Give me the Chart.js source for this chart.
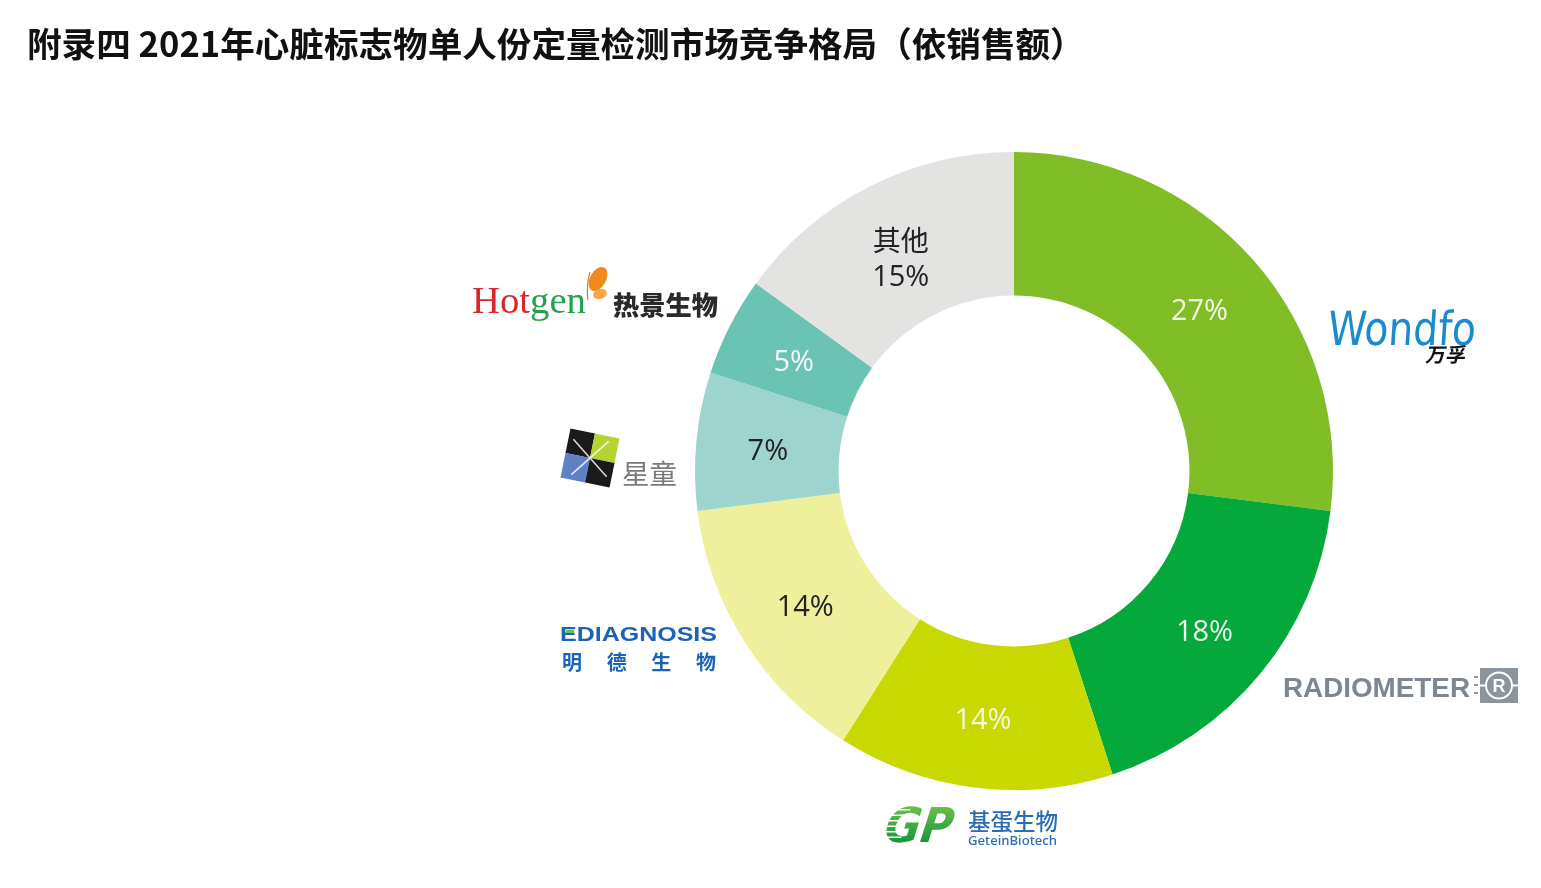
<!DOCTYPE html>
<html>
<head>
<meta charset="utf-8">
<script src="https://cdn.jsdelivr.net/npm/chart.js@4/dist/chart.umd.min.js"></script>
<style>
html,body{margin:0;padding:0;background:#fff;}
#wrap{position:absolute;left:0;top:0;width:1541px;height:888px;}
canvas{display:block;}
</style>
</head>
<body>
<div id="wrap"><canvas id="c" width="1541" height="888"></canvas></div>
<script>
const titleText = '附录四 2021年心脏标志物单人份定量检测市场竞争格局（依销售额）';
const companies = ['万孚', 'Radiometer', '基蛋生物', '明德生物', '星童', '热景生物', '其他'];
const shares = [27, 18, 14, 14, 7, 5, 15];
const sliceColors = ['#80bd27', '#05a83b', '#c8d901', '#eef09c', '#9dd4cd', '#6bc3b4', '#e3e3e1'];
const labelColors = ['#f4fbe8', '#eaf7ee', '#f6f9e0', '#222222', '#222222', '#f2fbf8', '#222222'];

function fitFont(ctx, text, weight, family, width) {
  ctx.font = weight + ' 100px ' + family;
  const w = ctx.measureText(text).width;
  return 100 * width / w;
}
function fitText(ctx, text, x, y, width, weight, family, color, align) {
  const size = fitFont(ctx, text, weight, family, width);
  ctx.font = weight + ' ' + size.toFixed(2) + 'px ' + family;
  ctx.fillStyle = color;
  ctx.textAlign = align || 'left';
  ctx.fillText(text, x, y);
  return size;
}
function spaced(ctx, chars, x0, x1, y, font, color) {
  ctx.font = font; ctx.fillStyle = color; ctx.textAlign = 'center';
  const n = chars.length;
  const w0 = ctx.measureText(chars[0]).width;
  const step = (x1 - x0 - w0) / (n - 1);
  for (let i = 0; i < n; i++) ctx.fillText(chars[i], x0 + w0 / 2 + i * step, y);
}

const overlay = {
  id: 'overlay',
  afterDraw(chart) {
    const ctx = chart.ctx;
    ctx.save();
    ctx.textBaseline = 'alphabetic';
    // title
    fitText(ctx, titleText, 27, 57, 1058, 'bold', '"Noto Sans CJK SC"', '#111111');

    // slice labels
    const meta = chart.getDatasetMeta(0);
    ctx.textBaseline = 'middle';
    ctx.textAlign = 'center';
    meta.data.forEach((arc, i) => {
      const p = arc.tooltipPosition();
      ctx.fillStyle = labelColors[i];
      const pct = shares[i] + '%';
      if (companies[i] === '其他') {
        ctx.font = '28px "Noto Sans CJK SC"';
        ctx.fillText(companies[i], p.x - 1, p.y - 10);
        ctx.font = '29px "Open Sans"';
        ctx.fillText(pct, p.x - 1, p.y + 27);
      } else {
        ctx.font = '29px "Open Sans"';
        ctx.fillText(pct, p.x, p.y + 4);
      }
    });

    ctx.textBaseline = 'alphabetic';
    // Wondfo
    ctx.save();
    ctx.translate(1327, 345);
    ctx.scale(1, 1.2);
    ctx.transform(1, 0, -0.08, 1, 0, 0);
    fitText(ctx, 'Wondfo', 0, 0, 148, '400', '"DejaVu Sans"', '#1b8bd0');
    ctx.restore();
    ctx.save();
    ctx.translate(1425, 362);
    ctx.transform(1, 0, -0.2, 1, 0, 0);
    fitText(ctx, '万孚', 0, 0, 40, 'bold', '"Noto Sans CJK SC"', '#111111');
    ctx.restore();

    // RADIOMETER
    fitText(ctx, 'RADIOMETER', 1283, 697, 187, 'bold', '"Liberation Sans"', '#7d8792');
    ctx.fillStyle = '#8c959e';
    ctx.fillRect(1480, 668, 38, 35);
    ctx.fillRect(1474, 676, 4, 2); ctx.fillRect(1474, 684, 4, 2); ctx.fillRect(1474, 692, 4, 2);
    ctx.strokeStyle = '#ffffff'; ctx.lineWidth = 2;
    ctx.beginPath(); ctx.arc(1499, 685.5, 13, 0, Math.PI * 2); ctx.stroke();
    ctx.beginPath(); ctx.moveTo(1480, 685.5); ctx.lineTo(1486, 685.5); ctx.moveTo(1512, 685.5); ctx.lineTo(1518, 685.5); ctx.stroke();
    ctx.font = 'bold 18px "Liberation Sans"'; ctx.fillStyle = '#ffffff'; ctx.textAlign = 'center';
    ctx.fillText('R', 1499, 692);

    // GP Getein
    ctx.save();
    ctx.translate(874, 842);
    ctx.scale(1, 1.1);
    ctx.transform(1, 0, -0.35, 1, 0, 0);
    const g = ctx.createLinearGradient(0, -34, 0, 0);
    g.addColorStop(0, '#6cc24a'); g.addColorStop(1, '#17983a');
    const gpSize = fitFont(ctx, 'GP', '900', '"DejaVu Sans"', 68);
    ctx.font = '900 ' + gpSize.toFixed(1) + 'px "DejaVu Sans"';
    ctx.fillStyle = g; ctx.textAlign = 'left';
    ctx.fillText('GP', 6, 0);
    ctx.fillStyle = '#ffffff';
    for (let k = 0; k < 6; k++) ctx.fillRect(0, -30 + k * 5, 26, 1.3);
    ctx.restore();
    fitText(ctx, '基蛋生物', 968, 830, 90, '500', '"Noto Sans CJK SC"', '#2b6db5');
    fitText(ctx, 'GeteinBiotech', 968, 845, 89, '500', '"Noto Sans"', '#2b6db5');

    // EDIAGNOSIS
    ctx.save();
    ctx.translate(560, 641);
    ctx.scale(1.25, 1);
    fitText(ctx, 'EDIAGNOSIS', 0, 0, 157 / 1.25, '600', '"Liberation Sans"', '#1c63b7');
    ctx.restore();
    ctx.fillStyle = '#6cc04a'; ctx.fillRect(566, 630, 8, 3);
    spaced(ctx, ['明', '德', '生', '物'], 562, 716, 670, 'bold 20px "Noto Sans CJK SC"', '#1c63b7');

    // 星童 icon
    ctx.save();
    ctx.translate(590, 458);
    ctx.rotate(0.2);
    const s = 25;
    ctx.fillStyle = '#1a1a1a'; ctx.fillRect(-s, -s, s, s);
    ctx.fillStyle = '#b6d334'; ctx.fillRect(0, -s, s, s);
    ctx.fillStyle = '#5d80c6'; ctx.fillRect(-s, 0, s, s);
    ctx.fillStyle = '#1a1a1a'; ctx.fillRect(0, 0, s, s);
    ctx.strokeStyle = 'rgba(255,255,255,0.85)'; ctx.lineWidth = 1.5;
    ctx.beginPath();
    ctx.moveTo(-s * 0.8, -s * 0.6); ctx.lineTo(s * 0.8, s * 0.6);
    ctx.moveTo(s * 0.6, -s * 0.8); ctx.lineTo(-s * 0.6, s * 0.8);
    ctx.stroke();
    ctx.restore();
    fitText(ctx, '星童', 622, 484, 55, '400', '"Noto Sans CJK SC"', '#7a7a7a');

    // Hotgen
    ctx.font = '38px "Liberation Serif"';
    const wHot = ctx.measureText('Hot').width;
    const wGen = ctx.measureText('gen').width;
    const sc = 114 / (wHot + wGen);
    const hs = (38 * sc).toFixed(1);
    ctx.font = hs + 'px "Liberation Serif"'; ctx.textAlign = 'left';
    ctx.fillStyle = '#d8282c'; ctx.fillText('Hot', 472, 313);
    ctx.fillStyle = '#23a24b'; ctx.fillText('gen', 472 + wHot * sc, 313);
    // butterfly
    ctx.fillStyle = '#f08a1c';
    ctx.beginPath(); ctx.ellipse(598, 279, 8, 13, 0.5, 0, Math.PI * 2); ctx.fill();
    ctx.fillStyle = '#f5a742';
    ctx.beginPath(); ctx.ellipse(600, 294, 7, 5, -0.3, 0, Math.PI * 2); ctx.fill();
    ctx.strokeStyle = '#e07a10'; ctx.lineWidth = 1.2;
    ctx.beginPath(); ctx.moveTo(588, 300); ctx.quadraticCurveTo(586, 285, 590, 272); ctx.stroke();
    fitText(ctx, '热景生物', 613, 315, 105, '900', '"Noto Sans CJK SC"', '#2a2a2a');

    ctx.restore();
  }
};

new Chart(document.getElementById('c'), {
  type: 'doughnut',
  data: {
    labels: companies,
    datasets: [{
      data: shares,
      backgroundColor: sliceColors,
      borderWidth: 0
    }]
  },
  options: {
    responsive: false,
    animation: false,
    cutout: '55%',
    layout: { padding: { left: 695, right: 208, top: 152, bottom: 98 } },
    plugins: { legend: { display: false }, tooltip: { enabled: false }, title: { display: false } }
  },
  plugins: [overlay]
});
</script>
</body>
</html>
